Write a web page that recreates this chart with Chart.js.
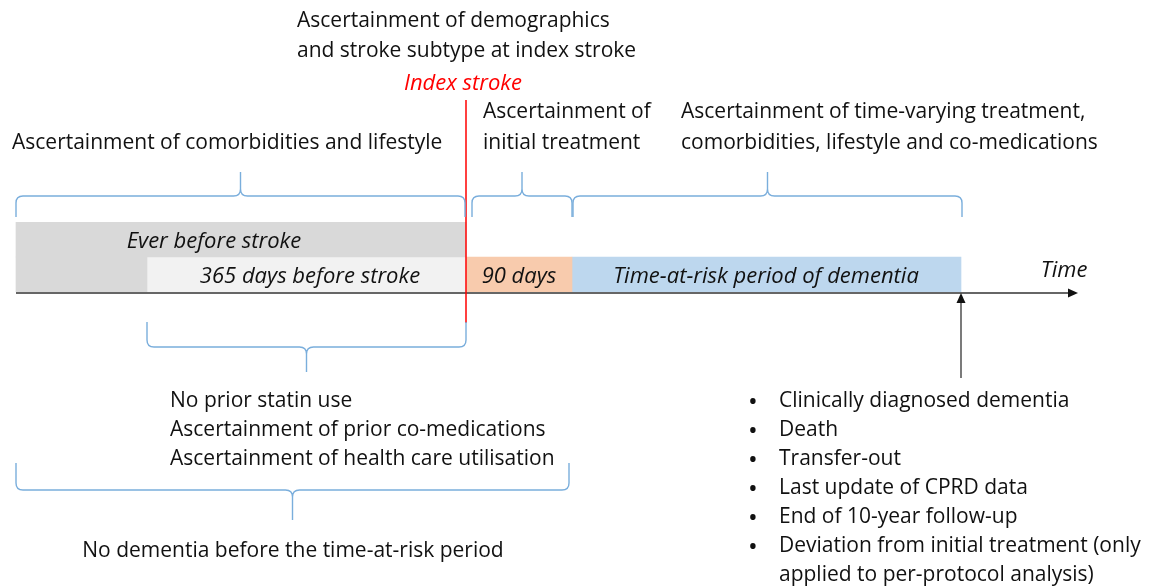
<!DOCTYPE html>
<html>
<head>
<meta charset="utf-8">
<script src="https://cdn.jsdelivr.net/npm/chart.js@4"></script>
<style>
  body { margin: 0; background: #fff; }
  #wrap { width: 1150px; height: 588px; }
</style>
</head>
<body>
<div id="wrap"><canvas id="chart" width="1150" height="588"></canvas></div>
<script>
// Study design timeline (schematic units, index stroke = 0)

// Periods on the time line
const periodNames = ['Ever before stroke', '365 days before stroke', '90 days', 'Time-at-risk period of dementia'];
const periodStart = [-450, -319, 0, 106];
const periodEnd = [0, 0, 106, 495];
const periodLabelAt = [-252, -156, 53, 300];
const periodColors = ['#d9d9d9', '#f2f2f2', '#f8cbad', '#bdd7ee'];

// Lanes of the bar area
const lanes = ['ever', 'recent'];

// Key time points
const indexStroke = 0;
const followUpEnd = 495;
const axisStart = -450;
const axisEnd = 612;

// Curly braces (from, to, side)
const braceFrom = [-450, 6, 107, -319, -450];
const braceTo = [-1, 106, 496, 0, 103];
const braceSide = ['top', 'top', 'top', 'bottom', 'bottom'];

// Texts
const topNotes = [
    ['Ascertainment of demographics', 'and stroke subtype at index stroke'],
    ['Ascertainment of comorbidities and lifestyle'],
    ['Ascertainment of', 'initial treatment'],
    ['Ascertainment of time-varying treatment,', 'comorbidities, lifestyle and co-medications']
];
const baselineNotes = ['No prior statin use', 'Ascertainment of prior co-medications', 'Ascertainment of health care utilisation'];
const washoutNote = 'No dementia before the time-at-risk period';
const endReasons = [
    'Clinically diagnosed dementia',
    'Death',
    'Transfer-out',
    'Last update of CPRD data',
    'End of 10-year follow-up',
    'Deviation from initial treatment (only',
    'applied to per-protocol analysis)'
];

const FONT = '"Open Sans", Lato, sans-serif';
const TEXT_FONT = '21px ' + FONT;
const ITALIC_FONT = 'italic 22px ' + FONT;
const BRACE_COLOR = '#7aaedc';
const DY = 1.5; // small baseline nudge for text

function drawBrace(ctx, x1, x2, yEnd, yLine, yTip) {
    const xm = (x1 + x2) / 2;
    const dir = yEnd > yLine ? 1 : -1; // ends point down for top braces
    const r = 7;
    ctx.beginPath();
    ctx.moveTo(x1, yEnd);
    ctx.lineTo(x1, yLine + dir * r);
    ctx.quadraticCurveTo(x1, yLine, x1 + r, yLine);
    ctx.lineTo(xm - r, yLine);
    ctx.quadraticCurveTo(xm, yLine, xm, yLine - dir * r);
    ctx.lineTo(xm, yTip);
    ctx.moveTo(xm, yLine - dir * r);
    ctx.quadraticCurveTo(xm, yLine, xm + r, yLine);
    ctx.lineTo(x2 - r, yLine);
    ctx.quadraticCurveTo(x2, yLine, x2, yLine + dir * r);
    ctx.lineTo(x2, yEnd);
    ctx.stroke();
}

function arrowHead(ctx, x, y, angle) {
    ctx.save();
    ctx.translate(x, y);
    ctx.rotate(angle);
    ctx.beginPath();
    ctx.moveTo(0, 0);
    ctx.lineTo(-10, -4.5);
    ctx.lineTo(-10, 4.5);
    ctx.closePath();
    ctx.fill();
    ctx.restore();
}

const timelinePlugin = {
    id: 'timeline',
    afterDatasetsDraw(chart) {
        const ctx = chart.ctx;
        const xs = chart.scales.x;
        const area = chart.chartArea;
        const px = v => xs.getPixelForValue(v);
        ctx.save();

        // bar labels
        ctx.fillStyle = '#111';
        ctx.font = ITALIC_FONT;
        ctx.textAlign = 'center';
        ctx.textBaseline = 'middle';
        const laneH = (area.bottom - area.top) / lanes.length;
        periodNames.forEach((name, i) => {
            const y = i === 0 ? area.top + laneH / 2 + 2 : area.bottom - laneH / 2 + 2;
            ctx.fillText(name, px(periodLabelAt[i]), y);
        });
        ctx.fillText('Time', 1064, 271);

        // time axis
        ctx.strokeStyle = '#333';
        ctx.fillStyle = '#111';
        ctx.lineWidth = 1.6;
        ctx.beginPath();
        ctx.moveTo(px(axisStart), area.bottom + 1);
        ctx.lineTo(px(axisEnd) - 8, area.bottom + 1);
        ctx.stroke();
        arrowHead(ctx, px(axisEnd), area.bottom + 1, 0);

        // end of follow-up arrow
        ctx.lineWidth = 1.3;
        ctx.beginPath();
        ctx.moveTo(px(followUpEnd), 378);
        ctx.lineTo(px(followUpEnd), area.bottom + 8);
        ctx.stroke();
        arrowHead(ctx, px(followUpEnd), area.bottom + 1, -Math.PI / 2);

        // index stroke line
        ctx.strokeStyle = '#ff0000';
        ctx.lineWidth = 1.5;
        ctx.beginPath();
        ctx.moveTo(px(indexStroke), 100);
        ctx.lineTo(px(indexStroke), 323);
        ctx.stroke();

        // braces
        ctx.strokeStyle = BRACE_COLOR;
        ctx.lineWidth = 1.4;
        braceFrom.forEach((from, i) => {
            const x1 = px(from), x2 = px(braceTo[i]);
            if (braceSide[i] === 'top') {
                drawBrace(ctx, x1, x2, 217, 196, 172);
            } else if (from === -319) {
                drawBrace(ctx, x1, x2, 322, 347, 372);
            } else {
                drawBrace(ctx, x1, x2, 463, 490, 520);
            }
        });

        // upper notes
        ctx.font = TEXT_FONT;
        ctx.fillStyle = '#111';
        ctx.textAlign = 'left';
        ctx.fillText(topNotes[0][0], 297, 20 + DY);
        ctx.fillText(topNotes[0][1], 297, 50 + DY);
        ctx.fillText(topNotes[1][0], 12, 142 + DY);
        ctx.fillText(topNotes[2][0], 483, 111 + DY);
        ctx.fillText(topNotes[2][1], 483, 142 + DY);
        ctx.fillText(topNotes[3][0], 681, 111 + DY);
        ctx.fillText(topNotes[3][1], 681, 142 + DY);

        ctx.fillStyle = '#ff0000';
        ctx.font = ITALIC_FONT;
        ctx.textAlign = 'center';
        ctx.fillText('Index stroke', px(indexStroke) - 3, 82 + DY);

        // lower notes
        ctx.fillStyle = '#111';
        ctx.font = TEXT_FONT;
        ctx.textAlign = 'left';
        baselineNotes.forEach((t, i) => ctx.fillText(t, 170, 400 + DY + i * 29));
        ctx.textAlign = 'center';
        ctx.fillText(washoutNote, 293, 550 + DY);

        ctx.textAlign = 'left';
        endReasons.forEach((t, i) => {
            ctx.font = TEXT_FONT;
            ctx.fillText(t, 779, 400 + DY + i * 29);
            if (i < endReasons.length - 1) {
                ctx.font = '26px ' + FONT;
                ctx.fillText('\u2022', 748, 401 + DY + i * 29);
            }
        });

        ctx.restore();
    }
};

const everLanes = [[periodStart[0], periodEnd[0]], [periodStart[0], periodStart[1]]];

new Chart(document.getElementById('chart'), {
    type: 'bar',
    data: {
        labels: lanes,
        datasets: periodNames.map((name, i) => ({
            label: name,
            data: i === 0 ? everLanes : [null, [periodStart[i], periodEnd[i]]],
            backgroundColor: periodColors[i],
            borderWidth: 0,
            grouped: false,
            barPercentage: 1,
            categoryPercentage: 1
        }))
    },
    options: {
        indexAxis: 'y',
        responsive: false,
        animation: false,
        devicePixelRatio: 1,
        layout: { padding: { top: 222, bottom: 296, left: 0, right: 0 } },
        scales: {
            x: { type: 'linear', min: -466, max: 684, display: false },
            y: { display: false }
        },
        plugins: {
            legend: { display: false },
            tooltip: { enabled: false }
        }
    },
    plugins: [timelinePlugin]
});
</script>
</body>
</html>
